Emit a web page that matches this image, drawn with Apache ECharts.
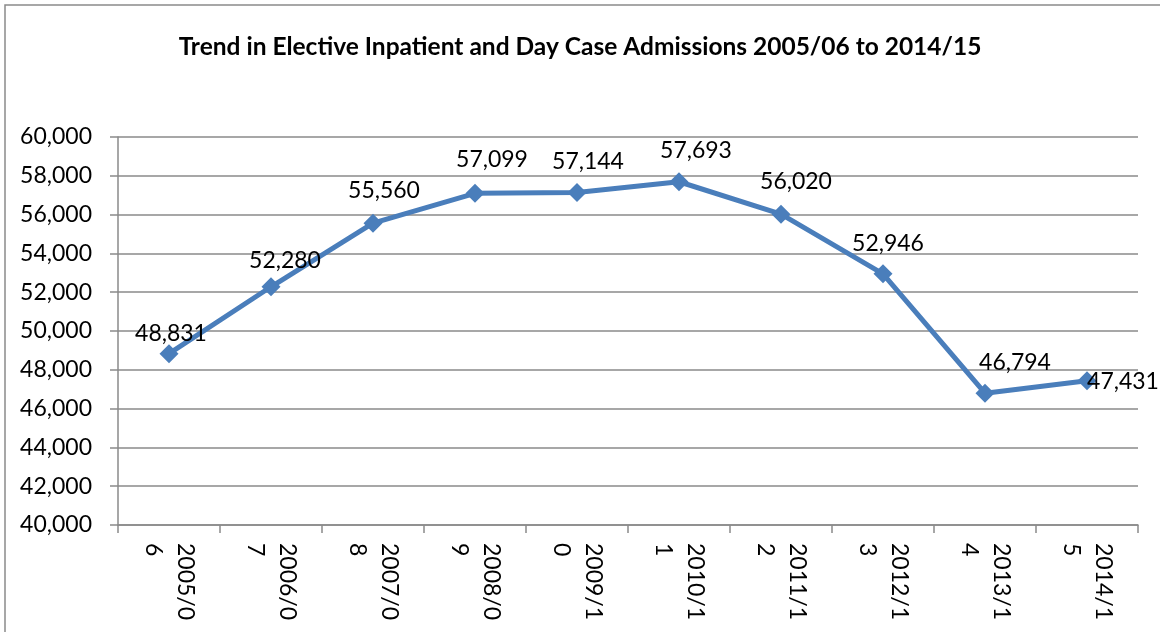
<!DOCTYPE html>
<html>
<head>
<meta charset="utf-8">
<script src="https://cdn.jsdelivr.net/npm/echarts@6/dist/echarts.min.js"></script>
<style>
  html, body { margin: 0; padding: 0; background: #fff; }
  #chart { width: 1160px; height: 632px; }
</style>
</head>
<body>
<div id="chart"></div>
<script>
const chartTitle = 'Trend in Elective Inpatient and Day Case Admissions 2005/06 to 2014/15';
const categories = ['2005/06', '2006/07', '2007/08', '2008/09', '2009/10', '2010/11', '2011/12', '2012/13', '2013/14', '2014/15'];
const admissions = [48831, 52280, 55560, 57099, 57144, 57693, 56020, 52946, 46794, 47431];
const yMin = 40000;
const yMax = 60000;
const yStep = 2000;

// label placement (layout only): offset of each data label from its point
const labelOffsets = [[2, -20], [14, -26], [11, -33], [17, -34], [11, -31], [17, -31], [15, -33], [5, -30], [30, -31], [36, 1]];

const FONT = 'Lato, "Liberation Sans", sans-serif';
const GRID = '#8a8a8a';

const chart = echarts.init(document.getElementById('chart'), null, { renderer: 'canvas' });

const seriesData = admissions.map((v, i) => ({
  value: v,
  label: { offset: labelOffsets[i] }
}));

chart.setOption({
  animation: false,
  backgroundColor: '#ffffff',
  title: {
    text: chartTitle,
    left: 'center',
    top: 30,
    textStyle: { fontFamily: FONT, fontWeight: 'bold', fontSize: 24.5, color: '#000' }
  },
  graphic: [{
    type: 'rect',
    z: -10,
    silent: true,
    shape: { x: 5, y: 5, width: 1200, height: 700 },
    style: { fill: 'none', stroke: '#8a8a8a', lineWidth: 1.5 }
  }],
  grid: { left: 118, right: 22, top: 137, bottom: 107, containLabel: false },
  xAxis: {
    type: 'category',
    data: categories,
    boundaryGap: true,
    axisLine: { show: true, lineStyle: { color: GRID, width: 1.5 } },
    axisTick: { show: true, length: 8, lineStyle: { color: GRID, width: 1.5 } },
    axisLabel: {
      rotate: -90,
      margin: 18,
      interval: 0,
      fontFamily: FONT,
      fontSize: 23,
      lineHeight: 32,
      color: '#000',
      formatter: v => v.slice(0, 6) + '\n' + v.slice(6)
    },
    splitLine: { show: false }
  },
  yAxis: {
    type: 'value',
    min: yMin,
    max: yMax,
    interval: yStep,
    axisLine: { show: true, lineStyle: { color: GRID, width: 1.5 } },
    axisTick: { show: true, length: 8, lineStyle: { color: GRID, width: 1.5 } },
    axisLabel: {
      margin: 26,
      fontFamily: FONT,
      fontSize: 23,
      color: '#000',
      formatter: v => v.toLocaleString('en-US')
    },
    splitLine: { show: true, lineStyle: { color: GRID, width: 1.5 } }
  },
  series: [{
    type: 'line',
    data: seriesData,
    symbol: 'diamond',
    symbolSize: 19,
    itemStyle: { color: '#4a7ebb' },
    lineStyle: { color: '#4a7ebb', width: 5 },
    label: {
      show: true,
      position: 'inside',
      fontFamily: FONT,
      fontSize: 23,
      color: '#000',
      formatter: p => p.value.toLocaleString('en-US')
    }
  }]
});
</script>
</body>
</html>
